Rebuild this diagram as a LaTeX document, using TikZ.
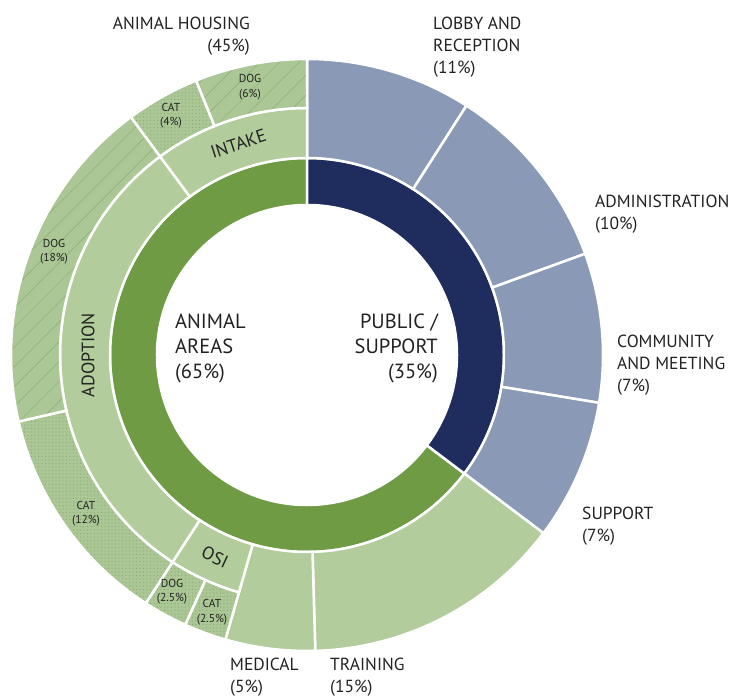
\documentclass[tikz,border=0pt]{standalone}
\usepackage{fontspec}
\setmainfont{PT Sans}
\usetikzlibrary{patterns.meta}
\definecolor{areagreen}{HTML}{6E9B43}
\definecolor{publicnavy}{HTML}{1F2C5E}
\definecolor{publicgray}{HTML}{8A99B6}
\definecolor{lightgreen}{HTML}{B2CC9B}
\definecolor{patbase}{HTML}{ABC796}
\definecolor{patink}{HTML}{8AAB73}
\definecolor{labelink}{HTML}{222222}
\tikzset{
  sep/.style={draw=white, line width=2.5pt, line join=miter},
  areafill/.style={sep, fill=areagreen},
  pubfill/.style={sep, fill=publicnavy},
  grayfill/.style={sep, fill=publicgray},
  solidfill/.style={sep, fill=lightgreen},
  dogfill/.style={sep, preaction={fill=patbase}, pattern={Lines[angle=45,distance=14pt,line width=0.5pt]}, pattern color=patink},
  catfill/.style={sep, preaction={fill=patbase}, pattern={Dots[distance=3.5pt,radius=0.65pt]}, pattern color=patink},
  biglabel/.style={inner sep=0pt, text=labelink, font=\fontsize{17.5}{22}\selectfont},
  centerlabel/.style={inner sep=0pt, text=labelink, font=\fontsize{20.5}{25}\selectfont},
  smalllabel/.style={inner sep=0pt, text=labelink, align=center, font=\fontsize{11.5}{14.5}\selectfont},
  ringlabel/.style={inner sep=0pt, text=labelink, font=\fontsize{18}{20}\selectfont},
}
\newcommand\annsec[5]{%
  \path[#1] (#2:#4) arc[start angle=#2, end angle=#3, radius=#4] -- (#3:#5) arc[start angle=#3, end angle=#2, radius=#5] -- cycle;}
\begin{document}
\begin{tikzpicture}[x=1pt, y=1pt]
\useasboundingbox (0,0) rectangle (733,698);
\begin{scope}[shift={(307,343)}]
  % inner ring
  \annsec{areafill}{-37}{-270}{150}{197}
  \annsec{pubfill}{90}{-37}{150}{197}
  % public children
  \annsec{grayfill}{90}{57.4}{197}{296}
  \annsec{grayfill}{57.4}{20}{197}{296}
  \annsec{grayfill}{20}{-9.3}{197}{296}
  \annsec{grayfill}{-9.3}{-37}{197}{296}
  % training, medical
  \annsec{solidfill}{-37}{-88.4}{197}{296}
  \annsec{solidfill}{-88.4}{-106}{197}{296}
  % animal housing, middle ring
  \annsec{solidfill}{-106}{-123}{197}{247}
  \annsec{solidfill}{-123}{-233.5}{197}{247}
  \annsec{solidfill}{126.5}{90}{197}{247}
  % outer ring cats and dogs
  \annsec{catfill}{-106}{-114.3}{247}{296}
  \annsec{catfill}{-114.3}{-123}{247}{296}
  \annsec{catfill}{-123}{-167}{247}{296}
  \annsec{dogfill}{-167}{-233.5}{247}{296}
  \annsec{catfill}{126.5}{112}{247}{296}
  \annsec{dogfill}{112}{90}{247}{296}
  % ring labels
  \node[ringlabel, rotate=18] (intake) at (108:222) {INTAKE};
  \node[ringlabel, rotate=90] (adoption) at (180:219) {ADOPTION};
\end{scope}
\node[ringlabel, rotate=-25] (osi) at (215,141) {OSI};
% centre labels
\node[centerlabel, align=left, anchor=west] (animalareas) at (175,350) {ANIMAL\\AREAS\\(65\%)};
\node[centerlabel, align=right, anchor=east] (publicsupport) at (438,350) {PUBLIC /\\SUPPORT\\(35\%)};
% outer labels
\node[biglabel, align=right, anchor=east] (housing) at (250,662) {ANIMAL HOUSING\\(45\%)};
\node[biglabel, align=left, anchor=west] (lobby) at (433,651) {LOBBY AND\\RECEPTION\\(11\%)};
\node[biglabel, align=left, anchor=west] (admin) at (595,483.5) {ADMINISTRATION\\(10\%)};
\node[biglabel, align=left, anchor=west] (community) at (617,333) {COMMUNITY\\AND MEETING\\(7\%)};
\node[biglabel, align=left, anchor=west] (support) at (582,172) {SUPPORT\\(7\%)};
\node[biglabel, align=left, anchor=west] (medical) at (230,20.5) {MEDICAL\\(5\%)};
\node[biglabel, align=left, anchor=west] (training) at (330,20.5) {TRAINING\\(15\%)};
% small labels
\node[smalllabel] (dogsix) at (250,611) {DOG\\(6\%)};
\node[smalllabel] (catfour) at (171,582.5) {CAT\\(4\%)};
\node[smalllabel] (dogeighteen) at (54,446.5) {DOG\\(18\%)};
\node[smalllabel] (cattwelve) at (86,184.5) {CAT\\(12\%)};
\node[smalllabel] (dogosi) at (172,106.5) {DOG\\(2.5\%)};
\node[smalllabel] (catosi) at (212,86) {CAT\\(2.5\%)};
\end{tikzpicture}
\end{document}
